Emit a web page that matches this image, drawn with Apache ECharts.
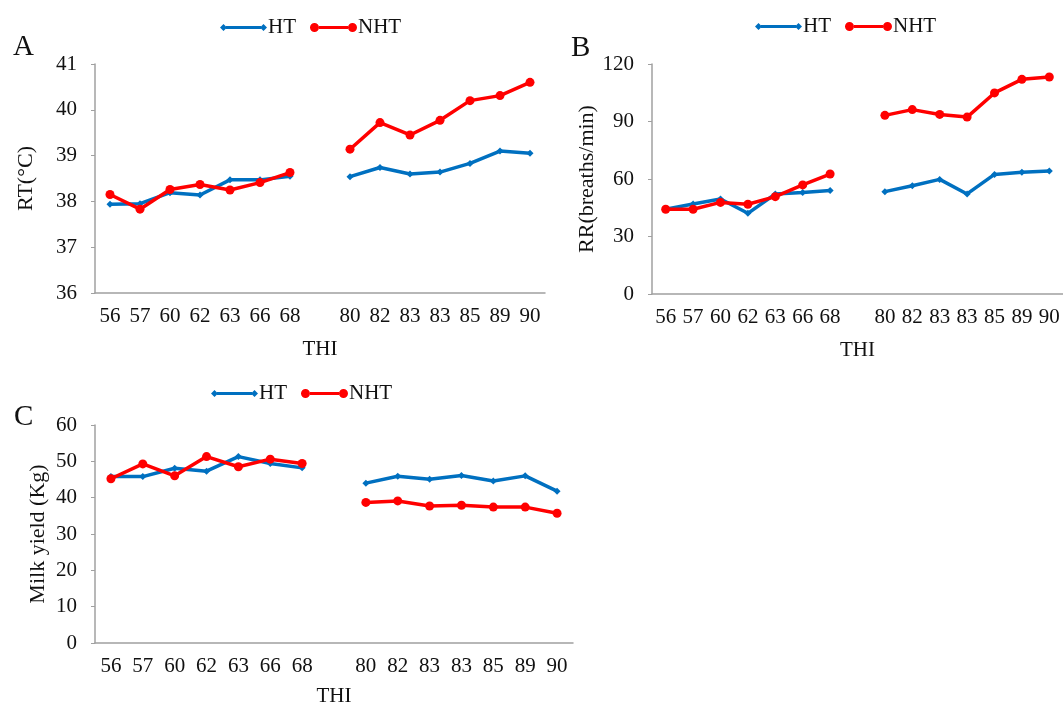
<!DOCTYPE html>
<html>
<head>
<meta charset="utf-8">
<script src="https://cdn.jsdelivr.net/npm/echarts@6/dist/echarts.min.js"></script>
<style>
  html, body { margin: 0; padding: 0; background: #fff; }
  #chart { width: 1063px; height: 705px; }
</style>
</head>
<body>
<div id="chart"></div>
<script>
// THI categories, blank slot separates the two groups
const thi = ['56', '57', '60', '62', '63', '66', '68', '', '80', '82', '83', '83', '85', '89', '90'];

// A: rectal temperature
const rtHT = [37.94, 37.95, 38.19, 38.14, 38.47, 38.47, 38.55, null, 38.54, 38.74, 38.6, 38.64, 38.83, 39.1, 39.05];
const rtNHT = [38.15, 37.83, 38.26, 38.37, 38.25, 38.41, 38.63, null, 39.14, 39.72, 39.45, 39.77, 40.2, 40.31, 40.6];

// B: respiration rate
const rrHT = [44.2, 47, 49.6, 42.1, 52.2, 53, 54, null, 53.4, 56.5, 59.8, 52.2, 62.4, 63.5, 64.2];
const rrNHT = [44.2, 44.2, 47.8, 46.8, 50.8, 56.9, 62.6, null, 93.2, 96.2, 93.7, 92.3, 104.9, 112, 113.2];

// C: milk yield
const myHT = [45.8, 45.8, 48.1, 47.3, 51.3, 49.4, 48.2, null, 44, 45.9, 45.1, 46.1, 44.6, 46, 41.8];
const myNHT = [45.2, 49.3, 46, 51.3, 48.5, 50.6, 49.4, null, 38.7, 39.1, 37.7, 37.9, 37.4, 37.4, 35.7];

const BLUE = '#0070c0';
const RED = '#ff0000';
const FONT = 'Liberation Serif';
const AXIS_GRAY = '#a0a0a0';

// legend icons: line with a marker at each end
const htIcon = 'path://M0,4.5 L3.5,1 L7,4.5 L3.5,8 Z M6,3 L41,3 L41,6 L6,6 Z M40,4.5 L43.5,1 L47,4.5 L43.5,8 Z';
const nhtIcon = 'path://M0,4.5 A4.5,4.5 0 1,1 9,4.5 A4.5,4.5 0 1,1 0,4.5 Z M9,3 L38,3 L38,6 L9,6 Z M38,4.5 A4.5,4.5 0 1,1 47,4.5 A4.5,4.5 0 1,1 38,4.5 Z';

function xAxisFor(gridIndex, nameGap) {
  return {
    gridIndex: gridIndex,
    type: 'category',
    data: thi,
    boundaryGap: true,
    name: 'THI',
    nameLocation: 'middle',
    nameGap: nameGap,
    nameTextStyle: { fontFamily: FONT, fontSize: 21, color: '#111' },
    axisLine: { lineStyle: { color: AXIS_GRAY, width: 1.5 } },
    axisTick: { alignWithLabel: true, interval: 0, length: 5, lineStyle: { color: AXIS_GRAY } },
    axisLabel: { interval: 0, margin: 13, fontFamily: FONT, fontSize: 21, color: '#111' },
    splitLine: { show: false }
  };
}

function yAxisFor(gridIndex, min, max, step, name, nameGap, labelMargin) {
  return {
    gridIndex: gridIndex,
    type: 'value',
    min: min,
    max: max,
    interval: step,
    name: name,
    nameLocation: 'middle',
    nameRotate: 90,
    nameGap: nameGap,
    nameTextStyle: { fontFamily: FONT, fontSize: 22, color: '#111' },
    axisLine: { show: true, lineStyle: { color: AXIS_GRAY, width: 1.5 } },
    axisTick: { show: true, length: 4, lineStyle: { color: AXIS_GRAY } },
    axisLabel: { margin: labelMargin, fontFamily: FONT, fontSize: 21, color: '#111' },
    splitLine: { show: false }
  };
}

function lineSeries(name, idx, values) {
  const isHT = name === 'HT';
  return {
    name: name,
    type: 'line',
    xAxisIndex: idx,
    yAxisIndex: idx,
    data: values,
    connectNulls: false,
    symbol: isHT ? 'diamond' : 'circle',
    symbolSize: isHT ? 7 : 9,
    showSymbol: true,
    itemStyle: { color: isHT ? BLUE : RED },
    lineStyle: { color: isHT ? BLUE : RED, width: 3.5 },
    z: isHT ? 2 : 3,
    animation: false
  };
}

function legendFor(left, top) {
  return {
    left: left,
    top: top,
    itemWidth: 47,
    itemHeight: 9,
    itemGap: 14,
    textStyle: { fontFamily: FONT, fontSize: 21, color: '#111', padding: [0, 0, 0, -4] },
    data: [
      { name: 'HT', icon: htIcon, itemStyle: { color: BLUE } },
      { name: 'NHT', icon: nhtIcon, itemStyle: { color: RED } }
    ]
  };
}

const chart = echarts.init(document.getElementById('chart'), null, { renderer: 'canvas' });

chart.setOption({
  backgroundColor: '#fff',
  animation: false,
  title: [
    { text: 'A', left: 8, top: 28, textStyle: { fontFamily: FONT, fontSize: 29, fontWeight: 'normal', color: '#111' } },
    { text: 'B', left: 566, top: 29, textStyle: { fontFamily: FONT, fontSize: 29, fontWeight: 'normal', color: '#111' } },
    { text: 'C', left: 9, top: 398, textStyle: { fontFamily: FONT, fontSize: 29, fontWeight: 'normal', color: '#111' } }
  ],
  legend: [
    legendFor(215, 12),
    legendFor(750, 11),
    legendFor(206, 378)
  ],
  grid: [
    { left: 95, top: 64, width: 450, height: 229, outerBoundsMode: 'none' },
    { left: 652, top: 64, width: 411, height: 230, outerBoundsMode: 'none' },
    { left: 95, top: 425, width: 478, height: 218, outerBoundsMode: 'none' }
  ],
  xAxis: [
    xAxisFor(0, 46),
    xAxisFor(1, 46),
    xAxisFor(2, 43)
  ],
  yAxis: [
    yAxisFor(0, 36, 41, 1, 'RT(°C)', 58, 18),
    yAxisFor(1, 0, 120, 30, 'RR(breaths/min)', 44, 18),
    yAxisFor(2, 0, 60, 10, 'Milk yield (Kg)', 46, 18)
  ],
  series: [
    lineSeries('HT', 0, rtHT),
    lineSeries('NHT', 0, rtNHT),
    lineSeries('HT', 1, rrHT),
    lineSeries('NHT', 1, rrNHT),
    lineSeries('HT', 2, myHT),
    lineSeries('NHT', 2, myNHT)
  ]
});
</script>
</body>
</html>
